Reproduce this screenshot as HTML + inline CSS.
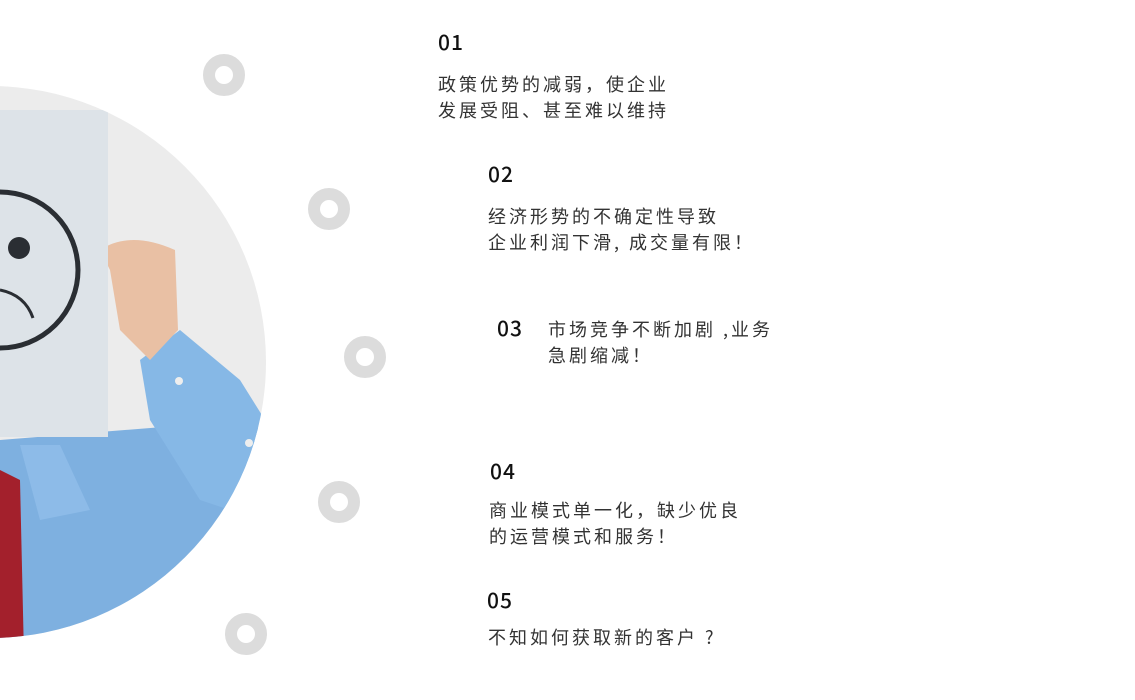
<!DOCTYPE html>
<html><head><meta charset="utf-8"><style>
html,body{margin:0;padding:0;background:#fff;width:1135px;height:700px;overflow:hidden;position:relative}
.t{position:absolute;font-family:"Noto Sans CJK SC",sans-serif;color:#333;font-size:18px;letter-spacing:3px;line-height:26px;white-space:nowrap}
.n{position:absolute;font-family:"Noto Sans CJK SC",sans-serif;color:#111;font-size:21px;letter-spacing:1px;font-weight:500;line-height:26px}
</style></head><body>
<svg width="1135" height="700" style="position:absolute;left:0;top:0">
<defs><clipPath id="c"><circle cx="-10" cy="362" r="276"/></clipPath></defs>
<g clip-path="url(#c)">
<rect x="-400" y="0" width="800" height="700" fill="#ececec"/>
<path d="M0 440 L250 420 L270 440 L270 700 L0 700 Z" fill="#7eb0e0"/>
<path d="M140 360 L180 330 L240 380 L265 420 L260 520 L200 500 L150 420 Z" fill="#86b8e6"/>
<path d="M0 470 L20 480 L25 700 L0 700 Z" fill="#a3202c"/>
<path d="M20 445 L60 445 L90 510 L40 520 Z" fill="#8dbbe8"/>
<path d="M100 250 Q130 230 175 250 L178 330 L150 360 L120 330 L110 270 Z" fill="#e9c0a4"/>
<rect x="-300" y="110" width="408" height="327" fill="#dde3e8"/>
<circle cx="0" cy="270" r="78" fill="none" stroke="#2a2e33" stroke-width="5"/>
<circle cx="19" cy="248" r="11" fill="#2a2e33"/>
<path d="M0 290 Q25 295 33 318" fill="none" stroke="#2a2e33" stroke-width="3"/>
<circle cx="179" cy="381" r="4" fill="#eee"/>
<circle cx="249" cy="443" r="4" fill="#eee"/>
</g>
<g fill="none" stroke="#dcdcdc" stroke-width="12">
<circle cx="224" cy="75" r="15"/>
<circle cx="329" cy="209" r="15"/>
<circle cx="365" cy="357" r="15"/>
<circle cx="339" cy="502" r="15"/>
<circle cx="246" cy="634" r="15"/>
</g>
</svg>
<div class="n" style="left:438px;top:29px">01</div>
<div class="t" style="left:438px;top:71px">政策优势的减弱，使企业<br>发展受阻、甚至难以维持</div>
<div class="n" style="left:488px;top:161px">02</div>
<div class="t" style="left:488px;top:203px">经济形势的不确定性导致<br>企业利润下滑, 成交量有限！</div>
<div class="n" style="left:497px;top:315px">03</div>
<div class="t" style="left:548px;top:316px">市场竞争不断加剧 ,业务<br>急剧缩减！</div>
<div class="n" style="left:490px;top:458px">04</div>
<div class="t" style="left:489px;top:497px">商业模式单一化，缺少优良<br>的运营模式和服务！</div>
<div class="n" style="left:487px;top:587px">05</div>
<div class="t" style="left:488px;top:624px">不知如何获取新的客户 ?</div>
</body></html>
